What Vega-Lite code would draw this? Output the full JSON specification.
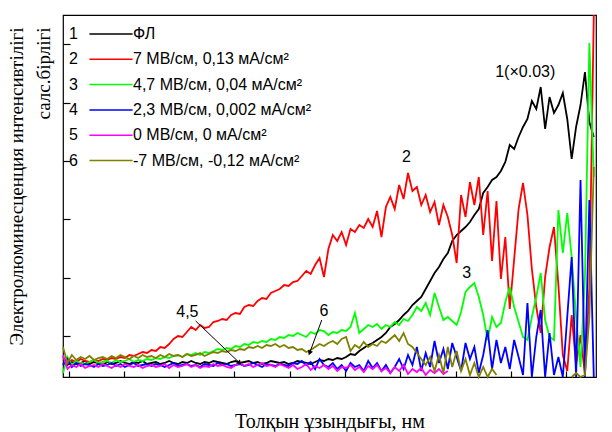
{
  "$schema": "https://vega.github.io/schema/vega-lite/v6.json",
  "width": 533,
  "height": 362,
  "autosize": {"type": "none"},
  "padding": {"left": 63, "top": 15, "right": 16, "bottom": 55},
  "background": "white",
  "config": {
    "view": {"stroke": "#000", "strokeWidth": 1.2},
    "axis": {"grid": false, "domain": false, "tickColor": "#000", "tickWidth": 1.2, "labelColor": "#000", "titleColor": "#000", "labelOverlap": false}
  },
  "datasets": {
    "spec": [
      {"x":370,"1":14,"2":20,"3":4,"4":12,"5":22,"6":30},
      {"x":374,"1":12,"2":14,"3":20,"4":18,"5":8,"6":14},
      {"x":378,"1":15,"2":17,"3":12,"4":10,"5":12,"6":22},
      {"x":382,"1":13,"2":15,"3":16,"4":14,"5":10,"6":17},
      {"x":386,"1":14,"2":18,"3":14,"4":11,"5":13,"6":20},
      {"x":390,"1":16,"2":16,"3":13,"4":13,"5":9,"6":18},
      {"x":394,"1":13,"2":15,"3":15,"4":12,"5":11,"6":21},
      {"x":398,"1":15,"2":17,"3":17,"4":10,"5":12,"6":17},
      {"x":402,"1":14,"2":16,"3":14,"4":13,"5":10,"6":19},
      {"x":406,"1":12,"2":18,"3":15,"4":11,"5":13,"6":20},
      {"x":410,"1":15,"2":17,"3":16,"4":12,"5":11,"6":18},
      {"x":414,"1":13,"2":19,"3":14,"4":14,"5":9,"6":21},
      {"x":418,"1":14,"2":18,"3":17,"4":11,"5":12,"6":19},
      {"x":422,"1":16,"2":20,"3":15,"4":13,"5":10,"6":22},
      {"x":426,"1":14,"2":19,"3":16,"4":10,"5":13,"6":20},
      {"x":430,"1":13,"2":22,"3":18,"4":12,"5":11,"6":18},
      {"x":434,"1":15,"2":21,"3":15,"4":14,"5":10,"6":21},
      {"x":438,"1":14,"2":23,"3":17,"4":11,"5":12,"6":19},
      {"x":442,"1":16,"2":25,"3":16,"4":12,"5":9,"6":22},
      {"x":446,"1":13,"2":24,"3":18,"4":13,"5":11,"6":20},
      {"x":450,"1":14,"2":27,"3":17,"4":11,"5":12,"6":21},
      {"x":454,"1":15,"2":26,"3":19,"4":13,"5":10,"6":19},
      {"x":458,"1":13,"2":30,"3":18,"4":12,"5":11,"6":22},
      {"x":462,"1":14,"2":29,"3":20,"4":10,"5":13,"6":20},
      {"x":466,"1":16,"2":33,"3":19,"4":12,"5":9,"6":23},
      {"x":470,"1":14,"2":38,"3":21,"4":14,"5":12,"6":21},
      {"x":474,"1":13,"2":41,"3":22,"4":11,"5":10,"6":22},
      {"x":478,"1":15,"2":40,"3":20,"4":12,"5":11,"6":20},
      {"x":482,"1":14,"2":45,"3":23,"4":13,"5":13,"6":23},
      {"x":486,"1":16,"2":50,"3":22,"4":11,"5":10,"6":21},
      {"x":490,"1":14,"2":47,"3":24,"4":12,"5":12,"6":22},
      {"x":494,"1":13,"2":52,"3":22,"4":10,"5":9,"6":24},
      {"x":498,"1":15,"2":49,"3":25,"4":13,"5":11,"6":21},
      {"x":502,"1":14,"2":50,"3":24,"4":12,"5":10,"6":23},
      {"x":506,"1":16,"2":55,"3":26,"4":11,"5":13,"6":25},
      {"x":510,"1":15,"2":56,"3":28,"4":14,"5":11,"6":24},
      {"x":514,"1":14,"2":58,"3":27,"4":12,"5":12,"6":26},
      {"x":518,"1":13,"2":57,"3":29,"4":13,"5":10,"6":25},
      {"x":522,"1":15,"2":62,"3":28,"4":11,"5":9,"6":27},
      {"x":526,"1":16,"2":64,"3":31,"4":12,"5":12,"6":26},
      {"x":530,"1":14,"2":63,"3":30,"4":13,"5":14,"6":28},
      {"x":534,"1":15,"2":70,"3":33,"4":11,"5":11,"6":27},
      {"x":538,"1":16,"2":72,"3":32,"4":12,"5":13,"6":30},
      {"x":542,"1":14,"2":71,"3":35,"4":14,"5":10,"6":29},
      {"x":546,"1":15,"2":76,"3":34,"4":12,"5":12,"6":31},
      {"x":550,"1":13,"2":79,"3":36,"4":10,"5":14,"6":29},
      {"x":554,"1":14,"2":78,"3":35,"4":13,"5":11,"6":32},
      {"x":558,"1":16,"2":84,"3":38,"4":12,"5":12,"6":31},
      {"x":562,"1":15,"2":86,"3":37,"4":11,"5":10,"6":33},
      {"x":566,"1":14,"2":88,"3":40,"4":13,"5":13,"6":30},
      {"x":570,"1":15,"2":92,"3":39,"4":12,"5":11,"6":32},
      {"x":574,"1":13,"2":91,"3":42,"4":11,"5":9,"6":29},
      {"x":578,"1":14,"2":95,"3":41,"4":14,"5":12,"6":30},
      {"x":582,"1":16,"2":96,"3":44,"4":13,"5":8,"6":27},
      {"x":586,"1":15,"2":101,"3":42,"4":16,"5":10,"6":28},
      {"x":590,"1":14,"2":106,"3":40,"4":12,"5":13,"6":25},
      {"x":594,"1":13,"2":103,"3":45,"4":15,"5":7,"6":27},
      {"x":598,"1":15,"2":112,"3":43,"4":8,"5":11,"6":30},
      {"x":602,"1":17,"2":119,"3":47,"4":18,"5":9,"6":33},
      {"x":606,"1":16,"2":100,"3":46,"4":12,"5":12,"6":31},
      {"x":610,"1":18,"2":128,"3":42,"4":10,"5":8,"6":34},
      {"x":614,"1":17,"2":142,"3":45,"4":14,"5":11,"6":36},
      {"x":618,"1":19,"2":136,"3":44,"4":8,"5":6,"6":33},
      {"x":622,"1":18,"2":145,"3":47,"4":12,"5":10,"6":38},
      {"x":626,"1":20,"2":132,"3":46,"4":6,"5":9,"6":40},
      {"x":630,"1":23,"2":148,"3":50,"4":14,"5":12,"6":26},
      {"x":634,"1":22,"2":145,"3":64,"4":10,"5":7,"6":32},
      {"x":638,"1":26,"2":152,"3":44,"4":12,"5":10,"6":29},
      {"x":642,"1":29,"2":149,"3":48,"4":6,"5":5,"6":35},
      {"x":646,"1":32,"2":158,"3":52,"4":16,"5":11,"6":30},
      {"x":650,"1":34,"2":150,"3":50,"4":9,"5":8,"6":33},
      {"x":654,"1":37,"2":166,"3":53,"4":14,"5":12,"6":31},
      {"x":658,"1":40,"2":140,"3":48,"4":6,"5":6,"6":36},
      {"x":662,"1":44,"2":170,"3":52,"4":12,"5":9,"6":34},
      {"x":666,"1":50,"2":180,"3":50,"4":4,"5":4,"6":38},
      {"x":670,"1":53,"2":168,"3":55,"4":10,"5":10,"6":42},
      {"x":674,"1":57,"2":192,"3":52,"4":18,"5":6,"6":36},
      {"x":678,"1":62,"2":178,"3":58,"4":8,"5":12,"6":44},
      {"x":682,"1":66,"2":204,"3":56,"4":22,"5":3,"6":33},
      {"x":686,"1":72,"2":186,"3":62,"4":12,"5":8,"6":30},
      {"x":690,"1":76,"2":190,"3":70,"4":30,"5":5,"6":24},
      {"x":694,"1":80,"2":172,"3":66,"4":6,"5":9,"6":18},
      {"x":698,"1":88,"2":182,"3":74,"4":24,"5":2,"6":12},
      {"x":702,"1":96,"2":165,"3":62,"4":10,"5":7,"6":20},
      {"x":706,"1":104,"2":175,"3":84,"4":36,"5":4,"6":6},
      {"x":710,"1":110,"2":152,"3":70,"4":14,"5":8,"6":22},
      {"x":714,"1":118,"2":172,"3":57,"4":28,"5":3,"6":4},
      {"x":718,"1":124,"2":160,"3":60,"4":8,"5":6,"6":30},
      {"x":722,"1":136,"2":142,"3":56,"4":34,"5":null,"6":10},
      {"x":726,"1":142,"2":114,"3":52,"4":20,"5":null,"6":26},
      {"x":730,"1":146,"2":182,"3":65,"4":6,"5":null,"6":6},
      {"x":734,"1":150,"2":160,"3":85,"4":34,"5":null,"6":18},
      {"x":738,"1":155,"2":195,"3":90,"4":18,"5":null,"6":2},
      {"x":742,"1":162,"2":172,"3":94,"4":30,"5":null,"6":14},
      {"x":746,"1":168,"2":200,"3":80,"4":4,"5":null,"6":0},
      {"x":750,"1":184,"2":142,"3":62,"4":22,"5":null,"6":10},
      {"x":754,"1":190,"2":186,"3":37,"4":47,"5":null,"6":0},
      {"x":758,"1":197,"2":116,"3":60,"4":8,"5":null,"6":8},
      {"x":762,"1":200,"2":176,"3":50,"4":37,"5":null,"6":2},
      {"x":766,"1":206,"2":98,"3":54,"4":14,"5":null,"6":null},
      {"x":770,"1":215,"2":140,"3":75,"4":30,"5":null,"6":null},
      {"x":774,"1":232,"2":68,"3":90,"4":8,"5":null,"6":null},
      {"x":778,"1":228,"2":118,"3":70,"4":37,"5":null,"6":null},
      {"x":782,"1":240,"2":168,"3":55,"4":20,"5":null,"6":null},
      {"x":786,"1":250,"2":194,"3":40,"4":2,"5":null,"6":null},
      {"x":790,"1":258,"2":162,"3":37,"4":74,"5":null,"6":null},
      {"x":794,"1":276,"2":108,"3":60,"4":0,"5":null,"6":null},
      {"x":798,"1":268,"2":70,"3":80,"4":40,"5":null,"6":null},
      {"x":802,"1":290,"2":44,"3":104,"4":67,"5":null,"6":null},
      {"x":806,"1":248,"2":100,"3":57,"4":0,"5":null,"6":null},
      {"x":810,"1":280,"2":130,"3":40,"4":44,"5":null,"6":null},
      {"x":814,"1":264,"2":150,"3":37,"4":2,"5":null,"6":null},
      {"x":818,"1":272,"2":92,"3":167,"4":20,"5":null,"6":null},
      {"x":822,"1":284,"2":22,"3":124,"4":0,"5":null,"6":null},
      {"x":826,"1":258,"2":6,"3":164,"4":60,"5":null,"6":null},
      {"x":830,"1":218,"2":62,"3":120,"4":120,"5":null,"6":0},
      {"x":834,"1":250,"2":12,"3":60,"4":0,"5":null,"6":4},
      {"x":838,"1":272,"2":42,"3":10,"4":197,"5":null,"6":0},
      {"x":842,"1":305,"2":2,"3":100,"4":0,"5":null,"6":2},
      {"x":846,"1":255,"2":90,"3":334,"4":177,"5":null,"6":60},
      {"x":850,"1":240,"2":362,"3":200,"4":0,"5":null,"6":210}
    ],
    "notes": [
      {"x": 788, "y": 305, "t": "1(×0.03)"},
      {"x": 680.6, "y": 220, "t": "2"},
      {"x": 735, "y": 104, "t": "3"},
      {"x": 482.5, "y": 65, "t": "4,5"},
      {"x": 606, "y": 66, "t": "6"}
    ],
    "arrows": [
      {"x": 490, "y": 56, "x2": 529.8, "y2": 14, "a": 133.7},
      {"x": 604, "y": 57, "x2": 593, "y2": 24, "a": 200}
    ]
  },
  "layer": [
    {
      "data": {"name": "spec"},
      "transform": [{"fold": ["1", "2", "3", "4", "5", "6"], "as": ["s", "v"]}],
      "mark": {"type": "line", "strokeWidth": 1.8},
      "encoding": {
        "x": {
          "field": "x", "type": "quantitative",
          "scale": {"domain": [370, 852], "nice": false, "zero": false},
          "axis": {
            "orient": "bottom", "offset": -6, "grid": false, "domain": false,
            "ticks": true, "tickColor": "#000", "tickWidth": 1.2, "tickSize": 6,
            "values": [375, 400, 425, 450, 475, 500, 525, 550, 575, 600, 625, 650, 675, 700, 725, 750, 775, 800, 825, 850],
            "labelExpr": "datum.value % 50 === 0 ? datum.label : ''",
            "labelFont": "Liberation Sans", "labelFontSize": 19, "labelBaseline": "top", "labelColor": "#000",
            "labelPadding": 9, "labelFlush": false, "labelOverlap": false, "labelBound": false,
            "title": "Толқын ұзындығы, нм", "titleFont": "Liberation Serif", "titleFontSize": 20, "titleColor": "#000",
            "titleFontWeight": "normal", "titleX": 266.5, "titleY": 56, "titleBaseline": "alphabetic", "titleAlign": "center"
          }
        },
        "y": {
          "field": "v", "type": "quantitative",
          "scale": {"domain": [0, 362], "nice": false, "zero": false},
          "axis": {
            "orient": "left", "offset": -7, "grid": false, "domain": false,
            "ticks": true, "tickColor": "#000", "tickWidth": 1.2, "tickSize": 7,
            "values": [41, 70, 99, 128, 158, 187, 216, 245, 274, 304, 333],
            "labels": false,
            "title": ["Электролюминесценция интенсивтілігі", "салс.бірлігі"],
            "titleFont": "Liberation Serif", "titleFontSize": 19, "titleFontWeight": "normal", "titleColor": "#000",
            "titleAngle": -90, "titleX": -48, "titleY": 12, "titleAlign": "right",
            "titleBaseline": "alphabetic", "titleLineHeight": 27
          }
        },
        "color": {
          "field": "s", "type": "nominal",
          "scale": {"domain": ["1", "2", "3", "4", "5", "6"], "range": ["#000000", "#ff0000", "#00ff00", "#0000ff", "#ff00ff", "#808000"]},
          "legend": {
            "orient": "none", "legendX": 40, "legendY": 11, "title": null, "padding": 0,
            "symbolType": "M-4.8,0H4.8", "symbolSize": 81, "symbolStrokeWidth": 1.5,
            "labelFont": "Liberation Sans", "labelFontSize": 16, "labelColor": "#000", "labelOffset": 14,
            "rowPadding": 9.3, "labelLimit": 400,
            "labelExpr": "{'1':'ФЛ','2':'7 МВ/см, 0,13 мА/см²','3':'4,7 МВ/см, 0,04 мА/см²','4':'2,3 МВ/см, 0,002 мА/см²','5':'0 МВ/см, 0 мА/см²','6':'-7 МВ/см, -0,12 мА/см²'}[datum.label]"
          }
        }
      }
    },
    {
      "data": {"name": "spec"},
      "transform": [{"fold": ["1", "2", "3", "4", "5", "6"], "as": ["n", "w"]}, {"filter": "datum.w != null"}],
      "mark": {"type": "point", "opacity": 0},
      "encoding": {
        "x": {"field": "x", "type": "quantitative", "scale": {"domain": [370, 852], "nice": false, "zero": false}},
        "y": {"field": "w", "type": "quantitative", "scale": {"domain": [0, 362], "nice": false, "zero": false}},
        "shape": {
          "field": "n", "type": "nominal",
          "legend": {
            "orient": "none", "legendX": -10, "legendY": 11, "title": null, "padding": 0,
            "symbolSize": 0, "symbolOpacity": 0, "symbolStrokeWidth": 0,
            "labelFont": "Liberation Sans", "labelFontSize": 16, "labelColor": "#000", "labelOffset": 0,
            "rowPadding": 9.3
          }
        }
      }
    },
    {
      "data": {"name": "notes"},
      "mark": {"type": "text", "font": "Liberation Sans", "fontSize": 16, "color": "#000", "align": "center", "baseline": "middle"},
      "encoding": {
        "x": {"field": "x", "type": "quantitative", "scale": {"domain": [370, 852], "nice": false, "zero": false}},
        "y": {"field": "y", "type": "quantitative", "scale": {"domain": [0, 362], "nice": false, "zero": false}},
        "text": {"field": "t"}
      }
    },
    {
      "data": {"name": "arrows"},
      "mark": {"type": "rule", "color": "#000", "strokeWidth": 1},
      "encoding": {
        "x": {"field": "x", "type": "quantitative", "scale": {"domain": [370, 852], "nice": false, "zero": false}},
        "y": {"field": "y", "type": "quantitative", "scale": {"domain": [0, 362], "nice": false, "zero": false}},
        "x2": {"field": "x2"},
        "y2": {"field": "y2"}
      }
    },
    {
      "data": {"name": "arrows"},
      "mark": {"type": "point", "shape": "triangle-up", "filled": true, "color": "#000", "size": 30, "opacity": 1},
      "encoding": {
        "x": {"field": "x2", "type": "quantitative", "scale": {"domain": [370, 852], "nice": false, "zero": false}},
        "y": {"field": "y2", "type": "quantitative", "scale": {"domain": [0, 362], "nice": false, "zero": false}},
        "angle": {"field": "a", "type": "quantitative", "scale": null}
      }
    }
  ]
}
